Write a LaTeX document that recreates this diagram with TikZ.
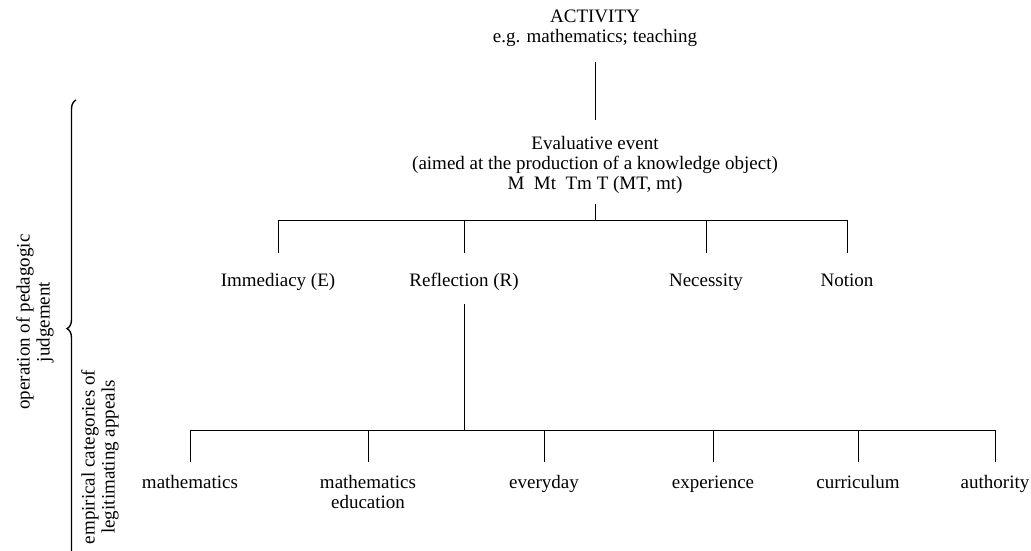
\documentclass[tikz,border=0pt]{standalone}
\usepackage{fontspec}
\setmainfont{Liberation Serif}
\usetikzlibrary{decorations.pathreplacing}
\tikzset{
  treeline/.style={line width=0.8pt, draw=black},
  bracket/.style={line width=1.4pt, draw=black, decorate, decoration={brace, amplitude=9pt, aspect=0.503}},
  textnode/.style={inner sep=0pt, align=center, font=\fontsize{19}{20}\selectfont},
  leaf/.style={textnode, text height=13pt, text depth=4.5pt},
  sidelabel/.style={textnode, rotate=90},
}

\begin{document}
\begin{tikzpicture}[x=1pt, y=-1pt]
\useasboundingbox (0,0) rectangle (1031,550);
\node[textnode] (activity) at (595,28) {ACTIVITY\\e.g. mathematics; teaching};
\node[textnode] (event) at (595,165) {Evaluative event\\(aimed at the production of a knowledge object)\\M\ \ Mt\ \ Tm T (MT, mt)};
\node[leaf] (immed) at (278,282) {Immediacy (E)};
\node[leaf] (reflect) at (464,282) {Reflection (R)};
\node[leaf] (necess) at (706,282) {Necessity};
\node[leaf] (notion) at (847,282) {Notion};
\node[leaf] (maths) at (190,484) {mathematics};
\node[textnode] (mathed) at (368,492) {mathematics\\education};
\node[leaf] (everyday) at (544,484) {everyday};
\node[leaf] (exper) at (713,484) {experience};
\node[leaf] (curric) at (858,484) {curriculum};
\node[leaf] (author) at (995,484) {authority};
\node[sidelabel] (judge) at (35,322) {operation of pedagogic\\judgement};
\node[sidelabel] (appeals) at (100,457) {empirical categories of\\legitimating appeals};
\coordinate (evbar) at (595,220);
\coordinate (upend) at (0,253);
\coordinate (refbar) at (464,430);
\coordinate (lowend) at (0,462);
\draw[treeline, shorten <=15pt, shorten >=16pt] (activity) -- (event);
\draw[treeline, shorten <=10pt] (event.south) -- (evbar);
\foreach \n in {immed,reflect,necess,notion}
  \draw[treeline] (evbar) -| (\n |- upend);
\draw[treeline, shorten <=13pt] (reflect.south) -- (refbar);
\foreach \n in {maths,mathed,everyday,exper,curric,author}
  \draw[treeline] (refbar) -| (\n |- lowend);
\draw[bracket] (76,560) -- (76,100);
\end{tikzpicture}
\end{document}
